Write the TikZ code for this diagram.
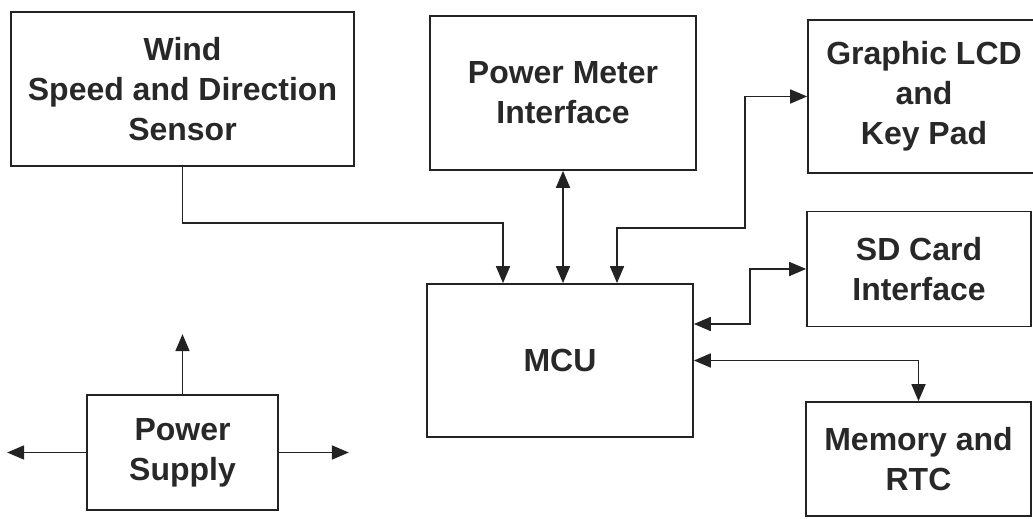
\documentclass[tikz,border=0pt]{standalone}
\usepackage{fontspec}
\setmainfont{Liberation Sans}
\usetikzlibrary{arrows.meta}
\definecolor{inkgray}{RGB}{35, 35, 35}
\definecolor{textgray}{RGB}{40, 40, 40}

\begin{document}
\begin{tikzpicture}[x=0.02cm, y=-0.02cm,
        >={Triangle[length=0.34cm, width=0.28cm]},
        block/.style={draw=inkgray, line width=1pt, align=center, text=textgray,
            font=\fontsize{18.2}{22.8}\selectfont\bfseries, inner sep=0pt},
        feed/.style={draw=inkgray, line width=1pt, ->},
        duplex/.style={draw=inkgray, line width=1pt, <->}]
    \clip (0,0) rectangle (1033,519);
    % blocks
    \node[block, minimum width=6.86cm, minimum height=3.08cm] (wind) at (182.5,89) {Wind\\Speed and Direction\\Sensor};
    \node[block, minimum width=5.32cm, minimum height=3.08cm] (meter) at (563,93) {Power Meter\\Interface};
    \node[block, minimum width=4.64cm, minimum height=3.06cm] (lcd) at (924,96.5) {Graphic LCD\\and\\Key Pad};
    \node[block, minimum width=4.48cm, minimum height=2.3cm] (sd) at (919,269) {SD Card\\Interface};
    \node[block, minimum width=5.32cm, minimum height=3.06cm] (mcu) at (560,360.5) {MCU};
    \node[block, minimum width=4.5cm, minimum height=2.28cm] (mem) at (918.5,459) {Memory and\\RTC};
    \node[block, minimum width=3.82cm, minimum height=2.3cm] (psu) at (182.5,452.5) {Power\\Supply};
    % links to the MCU
    \draw[feed] (wind.south) -- ++(0,56) -| ([xshift=-1.14cm]mcu.north);
    \draw[duplex] (meter.south) -- (meter.south |- mcu.north);
    \draw[duplex] ([xshift=1.14cm]mcu.north) -- ++(0,-55) -- ++(128,0) |- (lcd.west);
    \draw[duplex] ([yshift=0.73cm]mcu.east) -- ++(56,0) |- (sd.west);
    \draw[duplex] (mcu.east) -| (mem.north);
    % power outputs
    \draw[feed] (psu.north) -- ++(0,-60);
    \draw[feed] (psu.west) -- ++(-79,0);
    \draw[feed] (psu.east) -- ++(70,0);
\end{tikzpicture}
\end{document}
